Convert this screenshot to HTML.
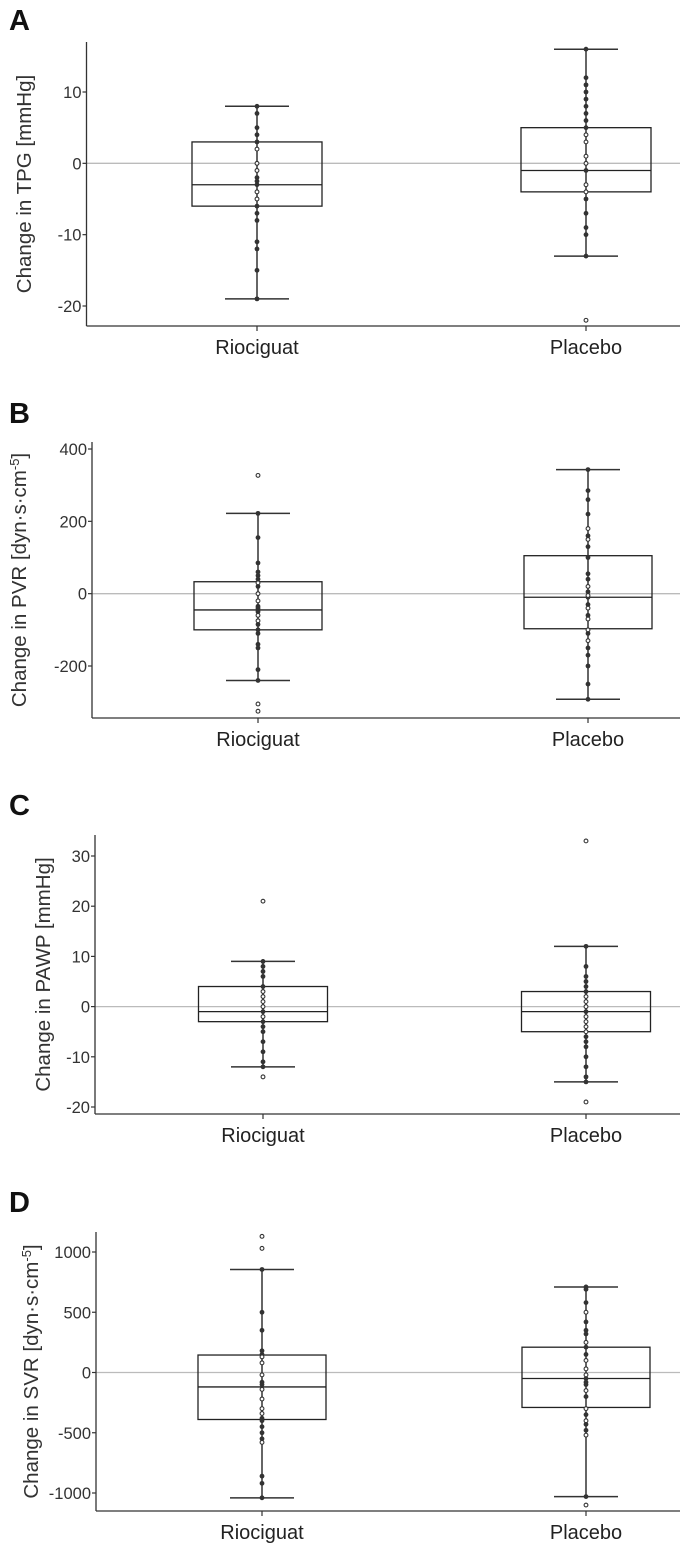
<!DOCTYPE html>
<html><head><meta charset="utf-8">
<style>
body{margin:0;background:#fff;}
svg{display:block;font-family:"Liberation Sans",Arial,sans-serif;}
</style></head>
<body>
<svg id="c" width="680" height="1544" viewBox="0 0 680 1544" xmlns="http://www.w3.org/2000/svg"></svg>
<script>
const categories = ["Riociguat","Placebo"];
// Panel A: TPG
const aTicks = [10,0,-10,-20];
const aStats = [[-19,-6,-3,3,8],[-13,-4,-1,5,16]];
const aFilled = [[8,7,5,4,3,-2,-2.5,-3,-6,-7,-8,-11,-12,-15,-19],[16,12,11,10,9,8,7,6,5,-1,-5,-7,-9,-10,-13]];
const aOpen = [[2,0,-1,-4,-5],[4,3,1,0,-3,-4,-22]];
// Panel B: PVR
const bTicks = [400,200,0,-200];
const bStats = [[-240,-100,-45,33,222],[-292,-97,-10,105,343]];
const bFilled = [[222,155,85,60,50,40,20,-35,-40,-45,-50,-85,-100,-110,-140,-150,-210,-240],[343,285,260,220,160,130,100,55,40,5,-10,-30,-60,-110,-150,-170,-200,-250,-292]];
const bOpen = [[327,30,0,-20,-60,-75,-305,-325],[180,150,20,-5,-40,-70,-100,-130]];
// Panel C: PAWP
const cTicks = [30,20,10,0,-10,-20];
const cStats = [[-12,-3,-1,4,9],[-15,-5,-1,3,12]];
const cFilled = [[9,8,7,6,4,-1,-3,-4,-5,-7,-9,-11,-12],[12,8,6,5,4,3,-1,-6,-7,-8,-10,-12,-14,-15]];
const cOpen = [[21,3,2,1,0,-2,-14],[33,2,1,0,-2,-3,-4,-5,-19]];
// Panel D: SVR
const dTicks = [1000,500,0,-500,-1000];
const dStats = [[-1040,-390,-120,145,855],[-1030,-290,-50,210,710]];
const dFilled = [[855,500,350,180,150,-80,-100,-380,-400,-450,-500,-550,-860,-920,-1040],[710,690,580,420,350,320,210,150,-50,-80,-100,-200,-350,-430,-480,-1030]];
const dOpen = [[1130,1030,130,80,-20,-140,-220,-300,-340,-580],[500,250,100,30,-20,-150,-300,-400,-520,-1100]];

const svg=document.getElementById('c');
const NS='http://www.w3.org/2000/svg';
function mk(tag,attrs,parent){const e=document.createElementNS(NS,tag);for(const k in attrs)e.setAttribute(k,attrs[k]);(parent||svg).appendChild(e);return e;}

const panels=[
 {letter:"A",ly:30,ax:86.5,top:42,bot:326,v1:10,p1:92,v2:-20,p2:306,cx:[257,586],bw:130,label:"Change in TPG [mmHg]",sup:null,lx:31,ticks:aTicks,stats:aStats,filled:aFilled,open:aOpen},
 {letter:"B",ly:423,ax:92,top:442,bot:718,v1:400,p1:449,v2:-200,p2:666,cx:[258,588],bw:128,label:"Change in PVR [dyn·s·cm",sup:"-5",lx:26,ticks:bTicks,stats:bStats,filled:bFilled,open:bOpen},
 {letter:"C",ly:815,ax:95,top:835,bot:1114,v1:30,p1:856,v2:-20,p2:1107,cx:[263,586],bw:129,label:"Change in PAWP [mmHg]",sup:null,lx:50,ticks:cTicks,stats:cStats,filled:cFilled,open:cOpen},
 {letter:"D",ly:1212,ax:96,top:1232,bot:1511,v1:1000,p1:1252,v2:-1000,p2:1493,cx:[262,586],bw:128,label:"Change in SVR [dyn·s·cm",sup:"-5",lx:38,ticks:dTicks,stats:dStats,filled:dFilled,open:dOpen}
];

panels.forEach((P,pi)=>{
 const g=mk('g',{});
 
 
 const y=v=>P.p1+(v-P.v1)*(P.p2-P.p1)/(P.v2-P.v1);
 const L=mk('text',{x:9,y:P.ly,'font-size':29,'font-weight':'bold',fill:'#111'},g);
 L.textContent=P.letter;
 
 
 const z=mk('line',{x1:P.ax,x2:680,y1:y(0),y2:y(0),stroke:'#bbb','stroke-width':1.3},g);
 
 
 const ya=mk('line',{x1:P.ax,x2:P.ax,y1:P.top,y2:P.bot,stroke:'#333','stroke-width':1.3},g);
 
 
 const xa=mk('line',{x1:P.ax,x2:680,y1:P.bot,y2:P.bot,stroke:'#333','stroke-width':1.3},g);
 
 
 P.ticks.forEach(t=>{
  mk('line',{x1:P.ax-4,x2:P.ax,y1:y(t),y2:y(t),stroke:'#333','stroke-width':1.2},g);
  const tl=mk('text',{x:P.ax-5,y:y(t)+6,'font-size':16.5,'text-anchor':'end',fill:'#333'},g);
  tl.textContent=t;
  
  
 });
 const yl=mk('text',{x:0,y:0,'font-size':20.5,'text-anchor':'middle',fill:'#333',transform:`translate(${P.lx},${(P.top+P.bot)/2}) rotate(-90)`},g);
 yl.textContent=P.label;
 if(P.sup){const s=mk('tspan',{dy:-7,'font-size':13},yl);s.textContent=P.sup;const e=mk('tspan',{dy:7},yl);e.textContent=']';}
 
 
 categories.forEach((cat,ci)=>{
  const cx=P.cx[ci],st=P.stats[ci],hw=P.bw/2;
  mk('line',{x1:cx,x2:cx,y1:P.bot,y2:P.bot+5,stroke:'#333','stroke-width':1.2},g);
  const cl=mk('text',{x:cx,y:P.bot+28,'font-size':20,'text-anchor':'middle',fill:'#222'},g);
  cl.textContent=cat;
  
  
  const w=mk('line',{x1:cx,x2:cx,y1:y(st[0]),y2:y(st[4]),stroke:'#333','stroke-width':1.5},g);
  
  
  [st[0],st[4]].forEach(v=>{
   const c=mk('line',{x1:cx-32,x2:cx+32,y1:y(v),y2:y(v),stroke:'#333','stroke-width':1.5},g);
   
   
  });
  const b=mk('rect',{x:cx-hw,y:y(st[3]),width:P.bw,height:y(st[1])-y(st[3]),fill:'none',stroke:'#222','stroke-width':1.3},g);
  
  
  const m=mk('line',{x1:cx-hw,x2:cx+hw,y1:y(st[2]),y2:y(st[2]),stroke:'#222','stroke-width':1.3},g);
  
  
  P.filled[ci].forEach(v=>{
   const d=mk('circle',{cx:cx,cy:y(v),r:2.4,fill:'#333'},g);
   
   
  });
  P.open[ci].forEach(v=>{
   const d=mk('circle',{cx:cx,cy:y(v),r:1.9,fill:'#fff',stroke:'#333','stroke-width':1.1},g);
   
   
  });
 });
});
</script>
</body></html>
